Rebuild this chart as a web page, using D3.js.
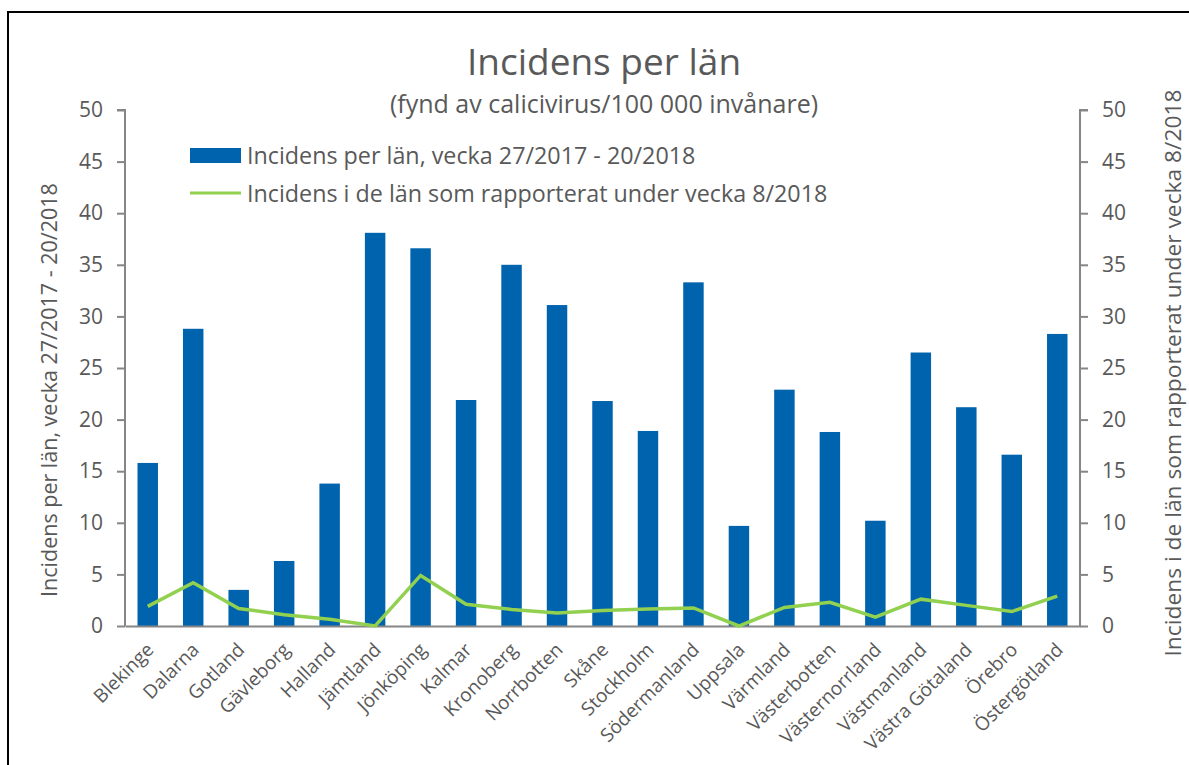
<!DOCTYPE html>
<html>
<head>
<meta charset="utf-8">
<script src="https://cdn.jsdelivr.net/npm/d3@7"></script>
<style>
  body { margin: 0; background: #fff; }
  text { font-family: "Open Sans", sans-serif; fill: #595959; }
</style>
</head>
<body>
<div id="chart"></div>
<script>
// lan (counties)
var lan = ["Blekinge", "Dalarna", "Gotland", "Gävleborg", "Halland", "Jämtland", "Jönköping", "Kalmar", "Kronoberg", "Norrbotten", "Skåne", "Stockholm", "Södermanland", "Uppsala", "Värmland", "Västerbotten", "Västernorrland", "Västmanland", "Västra Götaland", "Örebro", "Östergötland"];
// bars: vecka 27/2017 - 20/2018
var incidensPeriod = [15.8, 28.8, 3.5, 6.3, 13.8, 38.1, 36.6, 21.9, 35.0, 31.1, 21.8, 18.9, 33.3, 9.7, 22.9, 18.8, 10.2, 26.5, 21.2, 16.6, 28.3];
// line: vecka 8/2018
var incidensVecka = [1.9, 4.2, 1.7, 1.1, 0.65, 0, 4.9, 2.1, 1.6, 1.25, 1.5, 1.65, 1.75, 0, 1.8, 2.3, 0.85, 2.6, 2.0, 1.4, 2.9];
var yTicks = [0, 5, 10, 15, 20, 25, 30, 35, 40, 45, 50];

var width = 1189, height = 765;
var plotLeft = 125, plotRight = 1080, plotTop = 110, plotBottom = 626;

var svg = d3.select("#chart").append("svg").attr("width", width).attr("height", height);

// frame
svg.append("rect").attr("x", 8).attr("y", 12).attr("width", 1200).attr("height", 800)
  .attr("fill", "none").attr("stroke", "#000").attr("stroke-width", 2);

var x = d3.scaleBand().domain(lan).range([plotLeft, plotRight]).paddingInner(0.55).paddingOuter(0.275);
var y = d3.scaleLinear().domain([0, 50]).range([plotBottom, plotTop]);
var y2 = d3.scaleLinear().domain([0, 50]).range([plotBottom, plotTop]);

// bars
svg.append("g").selectAll("rect").data(incidensPeriod).enter().append("rect")
  .attr("x", function (d, i) { return x(lan[i]); })
  .attr("y", function (d) { return y(d); })
  .attr("width", x.bandwidth())
  .attr("height", function (d) { return plotBottom - y(d); })
  .attr("fill", "#0063ad");

// axes
var axL = svg.append("g").attr("transform", "translate(" + plotLeft + ",0)")
  .call(d3.axisLeft(y).tickValues(yTicks).tickSize(8).tickPadding(14));
var axR = svg.append("g").attr("transform", "translate(" + plotRight + ",0)")
  .call(d3.axisRight(y2).tickValues(yTicks).tickSize(8).tickPadding(14));
var axB = svg.append("g").attr("transform", "translate(0," + plotBottom + ")")
  .call(d3.axisBottom(x).tickSize(0).tickSizeOuter(0).tickFormat(""));
[axL, axR, axB].forEach(function (a) {
  a.selectAll("path, line").attr("stroke", "#868686").attr("stroke-width", 2);
  a.selectAll("text").style("font-size", "21px").attr("fill", "#595959").style("font-family", "Open Sans, sans-serif");
});
axL.select(".domain").attr("d", "M-8," + plotTop + "H0V" + plotBottom);
axR.select(".domain").attr("d", "M8," + plotTop + "H0V" + plotBottom);

// line
var line = d3.line()
  .x(function (d, i) { return x(lan[i]) + x.bandwidth() / 2; })
  .y(function (d) { return y2(d); });
svg.append("path").datum(incidensVecka).attr("d", line)
  .attr("fill", "none").attr("stroke", "#92d050").attr("stroke-width", 3.5);

// x labels
svg.append("g").selectAll("text").data(lan).enter().append("text")
  .attr("transform", function (d) { return "translate(" + (x(d) + x.bandwidth() / 2 + 7) + "," + (plotBottom + 25) + ") rotate(-45)"; })
  .attr("text-anchor", "end")
  .style("font-size", "19px")
  .text(function (d) { return d; });

// titles
svg.append("text").attr("x", 604).attr("y", 75).attr("text-anchor", "middle")
  .style("font-size", "37px").text("Incidens per län");
svg.append("text").attr("x", 604).attr("y", 113).attr("text-anchor", "middle")
  .style("font-size", "25px").text("(fynd av calicivirus/100 000 invånare)");

svg.append("text").attr("transform", "translate(57,390) rotate(-90)").attr("text-anchor", "middle")
  .style("font-size", "21.5px").text("Incidens per län, vecka 27/2017 - 20/2018");
svg.append("text").attr("transform", "translate(1181,373) rotate(-90)").attr("text-anchor", "middle")
  .style("font-size", "22px").attr("textLength", 567).attr("lengthAdjust", "spacingAndGlyphs")
  .text("Incidens i de län som rapporterat under vecka 8/2018");

// legend
var lg = svg.append("g");
lg.append("rect").attr("x", 190).attr("y", 148).attr("width", 51).attr("height", 15).attr("fill", "#0063ad");
lg.append("text").attr("x", 247).attr("y", 164).style("font-size", "23.3px").text("Incidens per län, vecka 27/2017 - 20/2018");
lg.append("line").attr("x1", 190).attr("x2", 241).attr("y1", 193).attr("y2", 193)
  .attr("stroke", "#92d050").attr("stroke-width", 3);
lg.append("text").attr("x", 247).attr("y", 202).style("font-size", "23.3px").text("Incidens i de län som rapporterat under vecka 8/2018");
</script>
</body>
</html>
